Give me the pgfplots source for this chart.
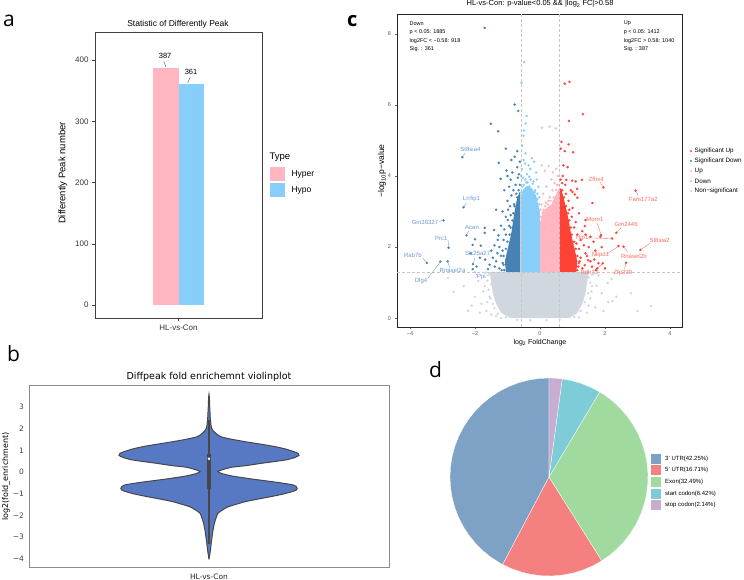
\documentclass[border=0pt]{standalone}
\usepackage{pgfplots}
\pgfplotsset{compat=1.18}
\usepgfplotslibrary{polar}
\usepackage{fontspec}
\setmainfont{Liberation Sans}
\newfontfamily\dejavu{DejaVu Sans}
\newfontfamily\panelfont{Open Sans}
\definecolor{hyper}{HTML}{FFB6C1}
\definecolor{hypo}{HTML}{87CEFA}
\definecolor{sigup}{HTML}{FF4136}
\definecolor{sigdown}{HTML}{4682B4}
\definecolor{upc}{HTML}{FFB6C1}
\definecolor{downc}{HTML}{87CEFA}
\definecolor{nsc}{HTML}{D0D7DE}
\definecolor{labblue}{HTML}{6A98CC}
\definecolor{labred}{HTML}{FF6A5C}
\definecolor{violin}{HTML}{5779C3}
\definecolor{utr3}{HTML}{7EA1C6}
\definecolor{utr5}{HTML}{F48080}
\definecolor{exon}{HTML}{A0DA9F}
\definecolor{startc}{HTML}{7DCCD8}
\definecolor{stopc}{HTML}{C7AED1}
\newcommand{\fs}[1]{\fontsize{#1}{#1}\selectfont}
\pgfplotsset{dots/.style={only marks, mark=*, mark size=1.2pt, color=#1, mark options={line width=0.1pt}}}
\begin{document}
\begin{tikzpicture}[x=1pt,y=1pt]
\useasboundingbox (0,0) rectangle (744,580);

% ---------------- panel labels ----------------
\node[anchor=base west, inner sep=0pt, font=\panelfont\fs{21}] at (3,553) {a};
\node[anchor=base west, inner sep=0pt, font=\panelfont\fs{21}] at (7,218) {b};
\node[anchor=base west, inner sep=0pt, font=\panelfont\bfseries\fs{20}] at (347,553) {c};
\node[anchor=base west, inner sep=0pt, font=\panelfont\fs{21}] at (429,202) {d};

% ---------------- panel a ----------------
\begin{axis}[at={(95pt,262pt)}, anchor=south west, scale only axis,
  width=167pt, height=286pt,
  xmin=-1, xmax=1, ymin=-21, ymax=446,
  xtick={0}, xticklabels={HL-vs-Con}, ytick={0,100,200,300,400},
  tick align=outside, tick pos=left, major tick length=3pt,
  axis line style={black!75, line width=0.7pt},
  every tick/.style={black!75, line width=0.7pt},
  tick label style={font=\fs{8}, text=black!80},
  /pgf/number format/assume math mode=true, clip=false]
\addplot[ybar, bar shift=0pt, bar width=0.3, fill=hyper, draw=none] coordinates {(-0.15,387)};
\addplot[ybar, bar shift=0pt, bar width=0.3, fill=hypo, draw=none] coordinates {(0.15,361)};
\node[font=\fs{7.5}] at (axis cs:-0.16,407) {387};
\draw[black!70, line width=0.4pt] (axis cs:-0.175,398) -- (axis cs:-0.15,389);
\node[font=\fs{7.5}] at (axis cs:0.15,381) {361};
\draw[black!70, line width=0.4pt] (axis cs:0.14,372) -- (axis cs:0.11,363);
\end{axis}
\node[font=\fs{8.5}] at (178,556) {Statistic of Differently Peak};
\node[font=\fs{9.5}, rotate=90] at (63,407) {Differently Peak number};
\node[anchor=west, font=\fs{9.5}] at (266,423) {Type};
\fill[hyper] (270,413) rectangle (285,399);
\fill[hypo] (270,397) rectangle (285,383);
\node[anchor=west, font=\fs{8.5}] at (288,406) {Hyper};
\node[anchor=west, font=\fs{8.5}] at (288,390) {Hypo};

% ---------------- panel c ----------------
\begin{axis}[at={(397pt,253pt)}, anchor=south west, scale only axis,
  width=285pt, height=313pt,
  xmin=-4.4, xmax=4.37, ymin=-0.25, ymax=8.56,
  xtick={-4,-2,0,2,4}, xticklabels={\textminus4,\textminus2,0,2,4},
  ytick={0,2,4,6,8},
  tick align=outside, tick pos=left, major tick length=2.5pt,
  axis line style={black!85, line width=0.9pt},
  every tick/.style={black!60, line width=0.5pt},
  tick label style={font=\fs{5.5}, text=black!65},
  xticklabel style={yshift=1pt},
  /pgf/number format/assume math mode=true]
% non-significant
\addplot[fill=nsc, draw=none] coordinates {(-1.55,1.3) (-1.5,1.0) (-1.45,0.7) (-1.35,0.4) (-1.2,0.15) (-0.9,0.0) (0.9,0.0) (1.15,0.15) (1.3,0.4) (1.4,0.7) (1.45,1.0) (1.5,1.3)};
\addplot[dots=nsc] coordinates {
(-2.21,0.2) (-2.66,0.74) (-2.83,1.13) (2.8,0.7) (3.0,0.2) (3.42,0.34) (2.08,0.99) (2.23,0.48) (1.74,0.91)
(-1.6,1.2) (-1.7,0.9) (-1.55,0.6) (-1.8,0.4) (-1.65,0.2) (-1.9,1.05) (-2.0,0.6) (-1.5,0.1) (-1.75,0.75)
(-2.1,0.35) (1.5,1.15) (1.6,0.9) (1.55,0.55) (1.7,0.3) (1.45,0.15) (1.8,1.2) (1.9,0.7) (2.1,0.45)
(2.2,1.1) (1.65,1.25) (-1.55,1.25) (2.35,0.6) (-2.35,0.9) (-1.45,0.4) (1.5,0.35) (-1.5,0.95) (-1.62,0.45)
(1.58,0.75) (1.42,1.0) (-1.42,1.15) (-1.35,0.05) (1.2,0.02) (-1.2,0.0) (1.95,0.2) (-1.85,0.15)
(-1.62,1.05) (-1.58,0.8) (-1.52,0.55) (-1.4,0.28) (-1.3,0.12) (-1.05,0.02) (1.05,0.03) (1.25,0.2)
(1.38,0.45) (1.48,0.7) (1.55,1.0) (1.6,1.22) (-1.68,1.28) (-0.7,-0.05) (0.6,-0.05) (0.2,-0.06) (-0.3,-0.06)};
% Down (light blue)
\addplot[fill=downc, draw=none] coordinates {(-0.58,1.3) (-0.58,3.45) (-0.52,3.62) (-0.4,3.72) (-0.25,3.66) (-0.12,3.45) (-0.03,3.1) (0,3.0) (0,1.3)};
\addplot[dots=downc] coordinates {
(-0.49,7.21) (-0.57,6.62) (-0.41,5.69) (-0.44,5.48) (-0.49,5.28) (-0.51,5.13) (-0.45,4.64) (-0.18,4.40)
(-0.33,3.98) (-0.55,4.85) (-0.5,4.45) (-0.3,4.2) (-0.4,4.05) (-0.1,3.9) (-0.2,3.85) (-0.55,4.2)
(-0.12,4.1) (-0.25,4.5) (-0.05,3.7) (-0.45,3.9) (-0.35,4.3) (-0.15,3.6) (-0.55,3.7) (-0.28,3.9)
(-0.08,3.5) (-0.52,3.95) (-0.38,3.82) (-0.56,3.55) (-0.5,3.75) (-0.42,3.82) (-0.33,3.7) (-0.22,3.78)
(-0.15,3.55) (-0.08,3.35) (-0.03,3.2) (-0.46,4.35) (-0.58,4.0) (-0.02,3.4)};
% Up (pink)
\addplot[fill=upc, draw=none] coordinates {(0,1.3) (0,2.7) (0.08,2.95) (0.2,3.1) (0.35,3.2) (0.48,3.45) (0.58,3.65) (0.58,1.3)};
\addplot[dots=upc] coordinates {
(0.06,5.36) (0.29,5.39) (0.49,5.34) (0.27,4.28) (0.15,4.15) (0.05,4.3) (0.4,4.1) (0.5,4.2) (0.35,3.9)
(0.1,3.5) (0.2,3.7) (0.45,3.8) (0.3,3.4) (0.05,3.2) (0.55,4.0) (0.12,3.05) (0.38,3.6) (0.25,3.3)
(0.52,3.75) (0.08,2.95) (0.18,3.25) (0.04,2.85) (0.1,3.0) (0.16,3.15) (0.24,3.2) (0.32,3.3) (0.42,3.4)
(0.5,3.6) (0.56,3.75) (0.02,3.05)};
% Significant Down
\addplot[fill=sigdown, draw=none] coordinates {(-0.6,1.3) (-1.05,1.3) (-1.08,1.6) (-0.98,2.0) (-0.88,2.4) (-0.8,2.9) (-0.72,3.3) (-0.63,3.55) (-0.6,3.55)};
\addplot[dots=sigdown] coordinates {
(-1.70,8.17) (-0.78,6.01) (-0.67,5.83) (-1.51,5.47) (-1.29,5.26) (-1.05,4.77) (-2.39,4.53) (-1.27,4.37)
(-0.78,4.54) (-1.03,4.15) (-1.21,3.92) (-2.35,3.12) (-2.97,2.75) (-2.26,2.33) (-2.0,2.22) (-1.70,2.54)
(-1.70,2.40) (-1.41,2.48) (-1.28,2.33) (-2.81,1.98) (-2.07,2.06) (-1.82,2.04) (-3.48,1.55) (-3.07,1.59)
(-2.84,1.60) (-2.06,1.52) (-2.13,1.82) (-1.69,1.65) (-1.31,1.83) (-1.39,1.45) (-2.07,1.38) (-0.99,2.76)
(-0.9,3.9) (-0.85,4.1) (-0.7,4.25) (-0.95,3.7) (-1.1,3.6) (-0.75,3.75) (-0.68,3.95) (-0.88,3.45)
(-1.0,3.3) (-0.92,3.15) (-1.15,3.0) (-1.05,2.85) (-1.2,2.6) (-1.1,2.5) (-1.3,2.2) (-1.25,2.0)
(-1.5,1.9) (-1.45,1.7) (-1.55,1.5) (-1.35,1.6) (-1.25,1.4) (-1.6,1.38) (-1.2,1.75) (-1.12,2.2)
(-0.82,3.6) (-0.65,4.05) (-0.62,4.4) (-0.7,4.7) (-0.88,4.45) (-1.0,4.0) (-1.35,3.05) (-0.95,2.6)
(-1.4,2.05) (-1.85,1.7) (-1.95,1.45) (-1.15,1.9) (-0.8,3.2) (-0.73,3.5) (-1.12,1.5) (-1.05,2.35)
(-0.9,2.9) (-1.18,1.35) (-0.98,3.05) (-1.1,1.35) (-1.15,1.55) (-1.12,1.75) (-1.05,1.95) (-1.0,2.15)
(-0.93,2.35) (-0.9,2.55) (-0.85,2.75) (-0.82,2.95) (-0.78,3.15) (-0.7,3.4) (-0.66,3.6) (-0.62,3.75)};
% Significant Up
\addplot[fill=sigup, draw=none] coordinates {(0.6,1.3) (1.12,1.3) (1.15,1.6) (1.05,2.0) (0.95,2.4) (0.85,2.9) (0.75,3.3) (0.65,3.65) (0.6,3.65)};
\addplot[dots=sigup] coordinates {
(0.76,6.6) (0.91,6.65) (1.32,5.74) (0.89,5.55) (0.66,4.96) (0.88,4.89) (0.64,4.77) (0.76,4.70)
(1.02,4.67) (1.95,3.68) (2.94,3.59) (1.61,3.24) (0.99,3.87) (1.29,3.89) (1.14,3.64) (1.07,3.48)
(1.15,3.39) (0.81,3.89) (1.40,2.76) (1.38,2.59) (1.86,2.29) (1.55,2.29) (1.40,1.82) (1.48,1.63)
(1.38,1.49) (1.76,1.40) (1.67,1.65) (1.88,2.34) (2.35,2.40) (2.22,2.24) (3.09,1.92) (2.41,2.03)
(2.57,2.01) (2.65,1.56) (1.93,1.54) (0.7,4.0) (0.78,3.75) (0.95,3.6) (0.68,3.8) (0.88,3.3)
(1.0,3.1) (1.2,2.95) (1.1,2.7) (1.3,2.45) (1.25,2.2) (1.2,1.95) (1.35,2.05) (1.5,2.0) (1.45,1.75)
(1.6,1.45) (1.3,1.4) (1.55,1.6) (1.7,1.9) (1.65,2.15) (1.25,1.7) (1.15,2.35) (0.9,3.05) (1.05,2.55)
(1.8,1.55) (2.0,1.4) (1.72,1.35) (1.9,2.0) (1.4,2.35) (1.1,3.85) (0.85,4.25) (0.72,4.3) (1.0,3.55)
(1.18,1.45) (1.22,1.6) (0.98,2.85) (1.12,2.1) (0.8,3.5) (1.15,1.35) (1.2,1.55) (1.15,1.75) (1.1,1.95)
(1.05,2.15) (0.98,2.35) (0.95,2.55) (0.9,2.75) (0.86,2.95) (0.8,3.15) (0.74,3.4) (0.68,3.6) (0.63,3.9)};
% thresholds
\addplot[densely dashed, black!22, line width=0.5pt] coordinates {(-0.58,-0.25) (-0.58,8.56)};
\addplot[densely dashed, black!22, line width=0.5pt] coordinates {(0.58,-0.25) (0.58,8.56)};
\addplot[densely dashed, black!22, line width=0.5pt] coordinates {(-4.4,1.3) (4.37,1.3)};
% gene labels (down)
\begin{scope}[labblue, line width=0.35pt]
\node[font=\fs{6}] at (axis cs:-2.14,4.75) {St8sia4};
\draw (axis cs:-2.3,4.64) -- (axis cs:-2.37,4.56);
\node[font=\fs{6}] at (axis cs:-2.11,3.35) {Lrrfip1};
\draw (axis cs:-2.26,3.24) -- (axis cs:-2.33,3.15);
\node[font=\fs{6}] at (axis cs:-3.54,2.70) {Gm36327};
\draw (axis cs:-3.1,2.72) -- (axis cs:-3.0,2.75);
\node[font=\fs{6}] at (axis cs:-2.09,2.56) {Acan};
\draw (axis cs:-2.19,2.45) -- (axis cs:-2.25,2.36);
\node[font=\fs{6}] at (axis cs:-3.04,2.25) {Prc1};
\draw (axis cs:-2.83,2.2) -- (axis cs:-2.81,2.02);
\node[font=\fs{6}] at (axis cs:-3.91,1.77) {Rab7b};
\draw (axis cs:-3.62,1.7) -- (axis cs:-3.5,1.58);
\node[font=\fs{6}] at (axis cs:-2.69,1.33) {Rnaset2a};
\draw (axis cs:-2.78,1.42) -- (axis cs:-2.83,1.57);
\node[font=\fs{6}] at (axis cs:-3.66,1.05) {Dlg4};
\draw (axis cs:-3.45,1.12) -- (axis cs:-3.09,1.56);
\node[font=\fs{6}] at (axis cs:-1.92,1.81) {Slc25a27};
\draw (axis cs:-2.0,1.7) -- (axis cs:-2.05,1.55);
\node[font=\fs{6}] at (axis cs:-1.8,1.15) {Ppl};
\draw (axis cs:-1.92,1.19) -- (axis cs:-2.03,1.33);
\end{scope}
% gene labels (up)
\begin{scope}[labred, line width=0.35pt]
\node[font=\fs{6}] at (axis cs:1.73,3.92) {Zfhx4};
\draw (axis cs:1.85,3.82) -- (axis cs:1.93,3.71);
\node[font=\fs{6}] at (axis cs:3.18,3.35) {Fam177a2};
\draw (axis cs:3.02,3.46) -- (axis cs:2.96,3.56);
\node[font=\fs{6}] at (axis cs:1.69,2.78) {Morn1};
\draw (axis cs:1.75,2.68) -- (axis cs:1.87,2.38);
\node[font=\fs{6}] at (axis cs:2.65,2.64) {Gm2446};
\draw (axis cs:2.5,2.55) -- (axis cs:2.37,2.43);
\node[font=\fs{6}] at (axis cs:1.30,2.27) {Hip1};
\draw (axis cs:1.48,2.26) -- (axis cs:2.19,2.24);
\node[font=\fs{6}] at (axis cs:3.68,2.19) {St8sia2};
\draw (axis cs:3.38,2.1) -- (axis cs:3.12,1.94);
\node[font=\fs{6}] at (axis cs:1.86,1.77) {Nkpd1};
\draw (axis cs:2.08,1.82) -- (axis cs:2.39,2.01);
\node[font=\fs{6}] at (axis cs:2.89,1.73) {Rnaset2b};
\draw (axis cs:2.7,1.85) -- (axis cs:2.59,1.99);
\node[font=\fs{6}] at (axis cs:2.55,1.26) {Zfp229};
\draw (axis cs:2.6,1.37) -- (axis cs:2.64,1.53);
\node[font=\fs{6}] at (axis cs:1.52,1.30) {Rdh13};
\draw (axis cs:1.7,1.36) -- (axis cs:1.91,1.52);
\end{scope}
\end{axis}
\node[font=\fs{7.5}] at (540,576) {HL-vs-Con: p-value<0.05 \&\& |log\textsubscript{2} FC|>0.58};
\node[font=\fs{8.5}, rotate=90] at (382,409) {\textminus log\textsubscript{10}p\textminus value};
\node[font=\fs{7}] at (540,237) {log\textsubscript{2} FoldChange};
\begin{scope}[font=\fs{5.5}]
\node[anchor=west, inner sep=0pt] at (409.5,556.7) {Down};
\node[anchor=west, inner sep=0pt] at (409.5,548) {p < 0.05: 1885};
\node[anchor=west, inner sep=0pt] at (409.5,539.3) {log2FC < \textminus0.58: 918};
\node[anchor=west, inner sep=0pt] at (409.5,531) {Sig. : 361};
\node[anchor=west, inner sep=0pt] at (623.7,556.7) {Up};
\node[anchor=west, inner sep=0pt] at (623.7,548) {p < 0.05: 1412};
\node[anchor=west, inner sep=0pt] at (623.7,539.3) {log2FC > 0.58: 1040};
\node[anchor=west, inner sep=0pt] at (623.7,531) {Sig. : 387};
\end{scope}
% legend c
\fill[sigup] (691,429) circle (1.2);
\fill[sigdown] (691,419) circle (1.2);
\fill[upc] (691,409) circle (1.2);
\fill[downc] (691,399) circle (1.2);
\fill[nsc] (691,389) circle (1.2);
\begin{scope}[font=\fs{6.3}]
\node[anchor=west, inner sep=0pt] at (694.5,429) {Significant Up};
\node[anchor=west, inner sep=0pt] at (694.5,419) {Significant Down};
\node[anchor=west, inner sep=0pt] at (694.5,409) {Up};
\node[anchor=west, inner sep=0pt] at (694.5,399) {Down};
\node[anchor=west, inner sep=0pt] at (694.5,389) {Non\textminus significant};
\end{scope}

% ---------------- panel b ----------------
\begin{axis}[at={(29pt,13pt)}, anchor=south west, scale only axis,
  width=360pt, height=182pt,
  xmin=-1, xmax=1, ymin=-4.376, ymax=4.01,
  xtick=\empty, ytick={-4,-3,-2,-1,0,1,2,3},
  yticklabels={\textminus4,\textminus3,\textminus2,\textminus1,0,1,2,3},
  major tick length=0pt,
  axis line style={black!45, line width=0.8pt},
  tick label style={font=\dejavu\fs{7.5}, text=black!75},
  yticklabel style={xshift=-1.5pt}]
\addplot[fill=violin, draw=black!72, line width=1pt, smooth, tension=0.45] coordinates {
(0,-4.02) (0.008,-3.6) (0.012,-3.3) (0.017,-3.0) (0.022,-2.7) (0.03,-2.36) (0.04,-2.1) (0.05,-1.9)
(0.075,-1.75) (0.107,-1.6) (0.2,-1.37) (0.27,-1.25) (0.34,-1.14) (0.41,-1.02) (0.46,-0.91) (0.485,-0.83)
(0.49,-0.75) (0.485,-0.67) (0.47,-0.60) (0.40,-0.5) (0.31,-0.4) (0.22,-0.3) (0.126,-0.18) (0.075,-0.08)
(0.05,0.02) (0.08,0.12) (0.126,0.22) (0.21,0.3) (0.29,0.40) (0.38,0.5) (0.44,0.58) (0.48,0.68)
(0.50,0.77) (0.495,0.86) (0.47,0.94) (0.43,1.05) (0.367,1.17) (0.29,1.28) (0.2,1.40) (0.12,1.52)
(0.065,1.63) (0.035,1.8) (0.015,2.01) (0.008,2.4) (0.006,2.7) (0.004,3.0) (0.003,3.3) (0,3.59)
(-0.003,3.3) (-0.004,3.0) (-0.006,2.7) (-0.008,2.4) (-0.015,2.01) (-0.035,1.8) (-0.065,1.63) (-0.12,1.52)
(-0.2,1.40) (-0.29,1.28) (-0.367,1.17) (-0.43,1.05) (-0.47,0.94) (-0.495,0.86) (-0.50,0.77) (-0.48,0.68)
(-0.44,0.58) (-0.38,0.5) (-0.29,0.40) (-0.21,0.3) (-0.126,0.22) (-0.08,0.12) (-0.05,0.02) (-0.075,-0.08)
(-0.126,-0.18) (-0.22,-0.3) (-0.31,-0.4) (-0.40,-0.5) (-0.47,-0.60) (-0.485,-0.67) (-0.49,-0.75) (-0.485,-0.83)
(-0.46,-0.91) (-0.41,-1.02) (-0.34,-1.14) (-0.27,-1.25) (-0.2,-1.37) (-0.107,-1.6) (-0.075,-1.75) (-0.05,-1.9)
(-0.04,-2.1) (-0.03,-2.36) (-0.022,-2.7) (-0.017,-3.0) (-0.012,-3.3) (-0.008,-3.6) (0,-4.02)};
\addplot[black!72, line width=1.4pt] coordinates {(0,-3.3) (0,2.4)};
\addplot[black!72, line width=4.5pt] coordinates {(0,-0.78) (0,0.83)};
\addplot[only marks, mark=*, mark size=1.1pt, color=white] coordinates {(0,0.61)};
\end{axis}
\node[font=\dejavu\fs{9.5}] at (209,203) {Diffpeak fold enrichemnt violinplot};
\node[font=\dejavu\fs{8}, rotate=90] at (6,103.5) {log2(fold\_enrichment)};
\node[font=\dejavu\fs{7.5}, text=black!85] at (209,3.5) {HL-vs-Con};

% ---------------- panel d ----------------
\begin{polaraxis}[at={(549pt,103pt)}, anchor=center, scale only axis,
  width=198pt, height=198pt, hide axis, ymin=0, ymax=1, clip=false]
\addplot[fill=utr3, draw=white, line width=0.3pt] coordinates {(0,0) (90,1) (96,1) (102,1) (108,1) (114,1) (120,1) (126,1) (132,1) (138,1) (144,1) (150,1) (156,1) (162,1) (168,1) (174,1) (180,1) (186,1) (192,1) (198,1) (204,1) (210,1) (216,1) (222,1) (228,1) (234,1) (240,1) (242.1,1) (0,0)};
\addplot[fill=utr5, draw=white, line width=0.3pt] coordinates {(0,0) (242.1,1) (248,1) (254,1) (260,1) (266,1) (272,1) (278,1) (284,1) (290,1) (296,1) (302.26,1) (0,0)};
\addplot[fill=exon, draw=white, line width=0.3pt] coordinates {(0,0) (-57.74,1) (-52,1) (-46,1) (-40,1) (-34,1) (-28,1) (-22,1) (-16,1) (-10,1) (-4,1) (2,1) (8,1) (14,1) (20,1) (26,1) (32,1) (38,1) (44,1) (50,1) (56,1) (59.22,1) (0,0)};
\addplot[fill=startc, draw=white, line width=0.3pt] coordinates {(0,0) (59.22,1) (65,1) (71,1) (77,1) (82.33,1) (0,0)};
\addplot[fill=stopc, draw=white, line width=0.3pt] coordinates {(0,0) (82.33,1) (86,1) (90,1) (0,0)};
\end{polaraxis}
\fill[utr3] (651,126) rectangle (661,116);
\fill[utr5] (651,114.7) rectangle (661,104.7);
\fill[exon] (651,103) rectangle (661,93);
\fill[startc] (651,91.3) rectangle (661,81.3);
\fill[stopc] (651,80) rectangle (661,70);
\begin{scope}[font=\fs{6}]
\node[anchor=west, inner sep=0pt] at (665,121) {3' UTR(42.25\%)};
\node[anchor=west, inner sep=0pt] at (665,109.7) {5' UTR(16.71\%)};
\node[anchor=west, inner sep=0pt] at (665,98) {Exon(32.49\%)};
\node[anchor=west, inner sep=0pt] at (665,86.3) {start codon(6.42\%)};
\node[anchor=west, inner sep=0pt] at (665,75) {stop codon(2.14\%)};
\end{scope}
\end{tikzpicture}
\end{document}
